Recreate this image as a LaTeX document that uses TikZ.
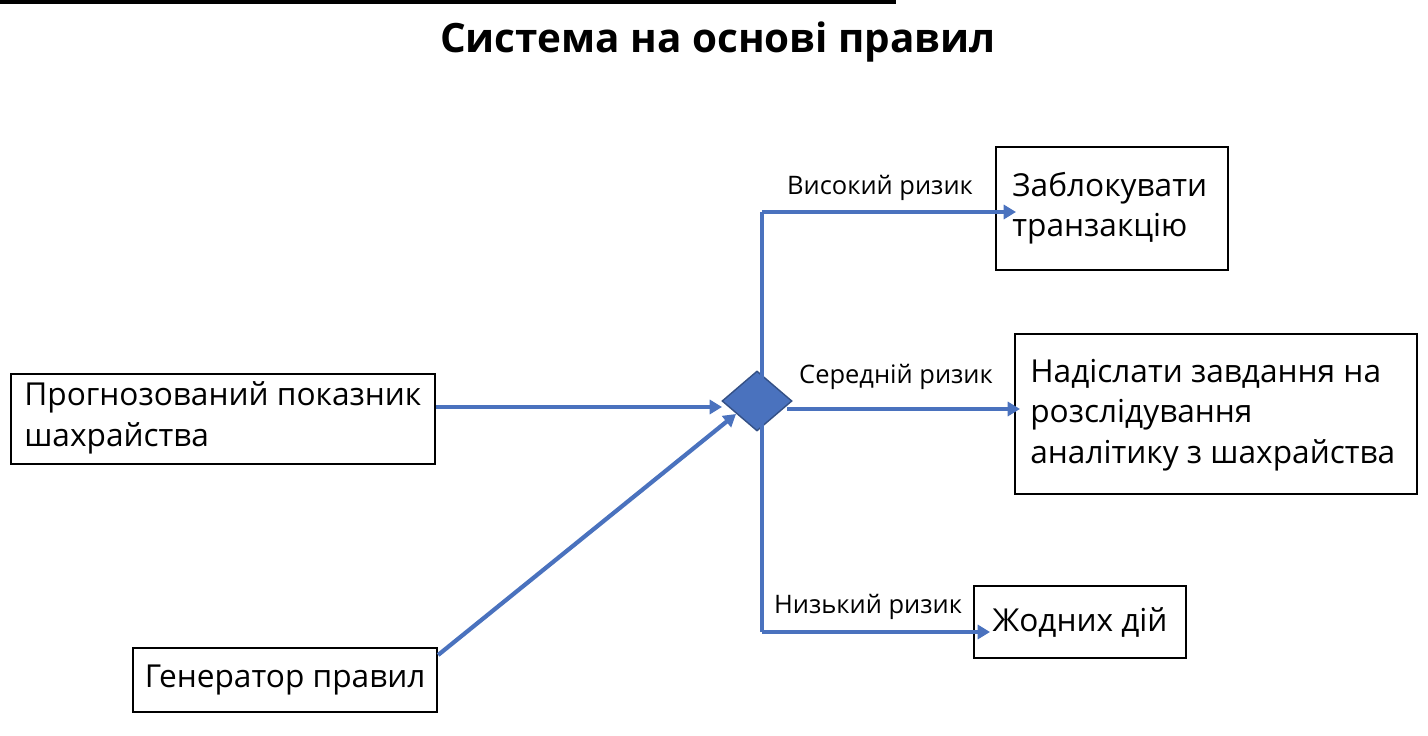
\documentclass[tikz,border=0pt]{standalone}
\usepackage{fontspec}
\setmainfont{Open Sans}
\usetikzlibrary{shapes.geometric,arrows.meta}
\definecolor{ln}{HTML}{4A72BE}
\begin{document}
\begin{tikzpicture}[x=0.02cm,y=-0.02cm,
 box/.style={draw=black,line width=1.2pt,inner sep=0pt,text width=#1,align=left,font=\fontsize{18}{23}\selectfont},
 conn/.style={draw=ln,line width=2.4pt,-{Triangle[length=7pt,width=8pt]}},
 lbl/.style={font=\fontsize{14.5}{17}\selectfont,inner sep=0pt}]
\useasboundingbox (0,0) rectangle (1428,736);
\node[font=\bfseries\fontsize{23}{28}\selectfont] (title) at (718,42) {Система на основі правил};
\node[box=0pt,minimum width=424\pgflinewidth,anchor=north west] at (0,0) {};
\node[draw,line width=1.2pt,minimum width=424*0.02cm,minimum height=90*0.02cm,anchor=north west] (p) at (10,373) {};
\node[anchor=west,font=\fontsize{18}{23}\selectfont,align=left,inner sep=0pt] at (24,418) {Прогнозований показник\\шахрайства};
\node[draw,line width=1.2pt,minimum width=304*0.02cm,minimum height=64*0.02cm,anchor=north west,font=\fontsize{18}{23}\selectfont] (g) at (132,647) {Генератор правил};
\node[draw,line width=1.2pt,minimum width=232*0.02cm,minimum height=123*0.02cm,anchor=north west] (z) at (995,146) {};
\node[anchor=west,font=\fontsize{18}{23}\selectfont,align=left,inner sep=0pt] at (1012,208) {Заблокувати\\транзакцію};
\node[draw,line width=1.2pt,minimum width=402*0.02cm,minimum height=160*0.02cm,anchor=north west] (n) at (1014,333) {};
\node[anchor=west,font=\fontsize{18}{23}\selectfont,align=left,inner sep=0pt] at (1030,415) {Надіслати завдання на\\розслідування\\аналітику з шахрайства};
\node[draw,line width=1.2pt,minimum width=212*0.02cm,minimum height=72*0.02cm,anchor=north west,font=\fontsize{18}{23}\selectfont] (j) at (973,585) {Жодних дій};
\node[diamond,fill=ln,draw=ln!70!black,line width=0.8pt,minimum width=70*0.02cm,minimum height=60*0.02cm,inner sep=0pt] (d) at (757,401) {};
\coordinate (top) at (762,212);
\coordinate (bot) at (762,632);
\draw[conn] (p.east |- 0,407) -- (722,407);
\draw[conn] (g.north east) ++(0,8) -- (736,414);
\draw[draw=ln,line width=2.4pt] (top) -- (bot);
\draw[conn] (top) -- (1016,212);
\draw[conn] (787,409) -- (1020,409);
\draw[conn] (bot) -- (990,632);
\node[lbl] (l1) at (880,188) {Високий ризик};
\node[lbl] (l2) at (896,377) {Середній ризик};
\node[lbl] (l3) at (868,607) {Низький ризик};
\end{tikzpicture}
\end{document}
